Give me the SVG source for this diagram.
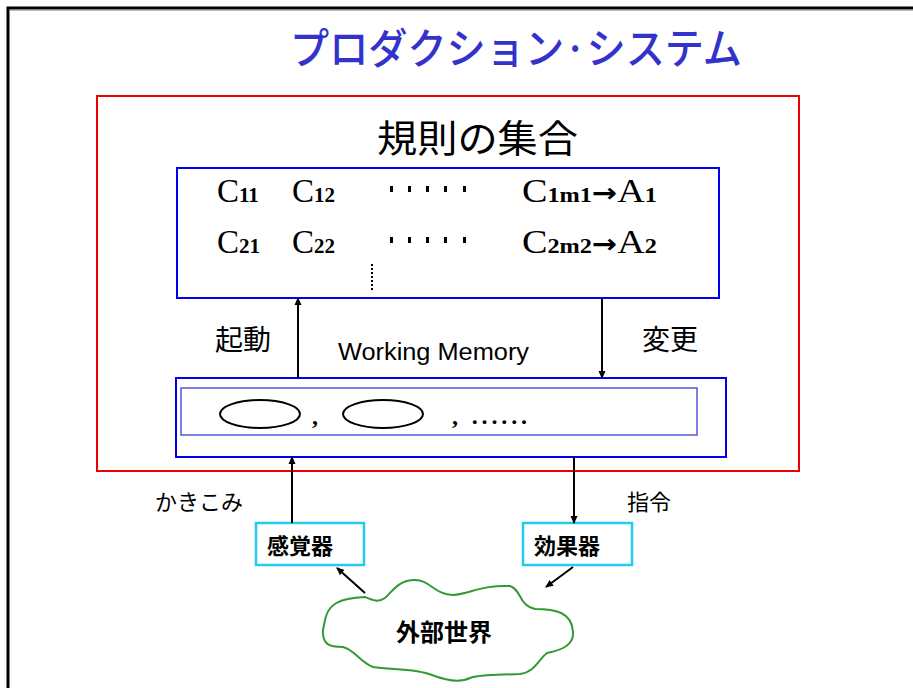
<svg xmlns="http://www.w3.org/2000/svg" width="913" height="688" viewBox="0 0 913 688">
<defs>
<marker id="ah" markerWidth="8" markerHeight="8" refX="7" refY="4" orient="auto" markerUnits="userSpaceOnUse">
<path d="M0,0.5 L8,4 L0,7.5 Z" fill="#000"/>
</marker>
<style>
.jp{font-family:"Noto Sans CJK JP","Noto Sans",sans-serif;fill:#000}
.jpb{font-family:"Noto Sans CJK JP","Noto Sans",sans-serif;font-weight:bold;fill:#000}
.tm{font-family:"Liberation Serif","Times New Roman",serif;fill:#000}
.sub{font-size:21px;font-weight:bold}
.arr{font-family:"DejaVu Sans",sans-serif;font-size:26px;font-weight:bold}
.conn{stroke:#000;stroke-width:2;fill:none;marker-end:url(#ah)}
.blue{fill:none;stroke:#0000ee;stroke-width:2}
.cyan{fill:#fff;stroke:#22ccee;stroke-width:2.5}
</style>
</defs>
<rect width="913" height="688" fill="#fff"/>
<path d="M8,688 V8 H913" fill="none" stroke="#000" stroke-width="3"/>
<line x1="10" y1="10.5" x2="913" y2="10.5" stroke="#bbb" stroke-width="1"/>

<text x="290" y="64" font-size="42" font-weight="500" fill="#3333cc" font-family="'Noto Sans CJK JP',sans-serif" textLength="452" lengthAdjust="spacingAndGlyphs">プロダクション·システム</text>

<g id="rules-set">
<rect x="97" y="96" width="702" height="375" fill="none" stroke="#ee0000" stroke-width="2"/>
<text class="jp" x="377" y="152" font-size="38" textLength="201" lengthAdjust="spacingAndGlyphs">規則の集合</text>
</g>

<g id="rules">
<rect class="blue" x="177" y="168" width="542" height="130"/>
<text class="tm" font-size="33" y="202"><tspan x="217">C</tspan><tspan class="sub">11</tspan><tspan x="292">C</tspan><tspan class="sub">12</tspan></text>
<text class="tm" font-size="33" y="202" x="522" textLength="135" lengthAdjust="spacingAndGlyphs">C<tspan class="sub">1m1</tspan><tspan class="arr">→</tspan>A<tspan class="sub">1</tspan></text>
<text class="tm" font-size="33" y="253"><tspan x="217">C</tspan><tspan class="sub">21</tspan><tspan x="292">C</tspan><tspan class="sub">22</tspan></text>
<text class="tm" font-size="33" y="253" x="522" textLength="135" lengthAdjust="spacingAndGlyphs">C<tspan class="sub">2m2</tspan><tspan class="arr">→</tspan>A<tspan class="sub">2</tspan></text>
<g fill="#000">
<rect x="390" y="186" width="3" height="6"/><rect x="408" y="186" width="3" height="6"/><rect x="426" y="186" width="3" height="6"/><rect x="444" y="186" width="3" height="6"/><rect x="463" y="186" width="3" height="6"/>
<rect x="390" y="237" width="3" height="6"/><rect x="408" y="237" width="3" height="6"/><rect x="426" y="237" width="3" height="6"/><rect x="444" y="237" width="3" height="6"/><rect x="463" y="237" width="3" height="6"/>
</g>
<line x1="372" y1="264" x2="372" y2="292" stroke="#000" stroke-width="2" stroke-dasharray="2,2"/>
</g>

<g id="labels">
<text class="jp" x="215" y="350" font-size="28">起動</text>
<text class="jp" x="642" y="350" font-size="28">変更</text>
<text x="338" y="360" font-size="23" font-family="'Liberation Sans',Arial,sans-serif" fill="#000" textLength="191" lengthAdjust="spacingAndGlyphs">Working Memory</text>
<text class="jp" x="155" y="510" font-size="22">かきこみ</text>
<text class="jp" x="627" y="510" font-size="22">指令</text>
</g>

<g id="working-memory">
<rect class="blue" x="176" y="378" width="550" height="79"/>
<rect x="181" y="388" width="516" height="47" fill="none" stroke="#5555dd" stroke-width="1.5"/>
<ellipse cx="260" cy="414" rx="40" ry="14" fill="none" stroke="#000" stroke-width="2"/>
<ellipse cx="383" cy="414" rx="40" ry="14" fill="none" stroke="#000" stroke-width="2"/>
<text class="tm" font-size="24" font-weight="bold" x="312" y="424">,</text>
<text class="tm" font-size="24" font-weight="bold" x="452" y="424" textLength="75" lengthAdjust="spacing">, ......</text>
</g>

<g id="sensor">
<rect class="cyan" x="256" y="523" width="108" height="42"/>
<text class="jpb" x="267" y="554" font-size="22">感覚器</text>
</g>
<g id="effector">
<rect class="cyan" x="523" y="523" width="109" height="42"/>
<text class="jpb" x="534" y="554" font-size="22">効果器</text>
</g>

<g id="world">
<path d="M325,620 C328,605 338,598 365,597 C372,600 378,603 385,598 C392,592 398,580 415,580 C430,580 435,595 453,595 C470,594 480,585 510,586 C522,590 518,605 535,609 C555,609 572,612 573,632 C574,645 562,650 547,653 C538,660 535,672 520,674 C500,675 480,674 470,678 C460,683 445,680 432,675 C415,668 390,670 373,667 C360,662 355,650 343,647 C330,647 322,645 323,630 Z" fill="#fff" stroke="#339933" stroke-width="2"/>
<text class="jpb" x="396" y="641" font-size="24">外部世界</text>
</g>

<g id="connectors">
<line class="conn" x1="298" y1="378" x2="298" y2="298"/>
<line class="conn" x1="602" y1="298" x2="602" y2="378"/>
<line class="conn" x1="292" y1="523" x2="292" y2="457"/>
<line class="conn" x1="574" y1="457" x2="574" y2="523"/>
<line class="conn" x1="365" y1="593" x2="337" y2="568"/>
<line class="conn" x1="573" y1="567" x2="546" y2="587"/>
</g>
</svg>
